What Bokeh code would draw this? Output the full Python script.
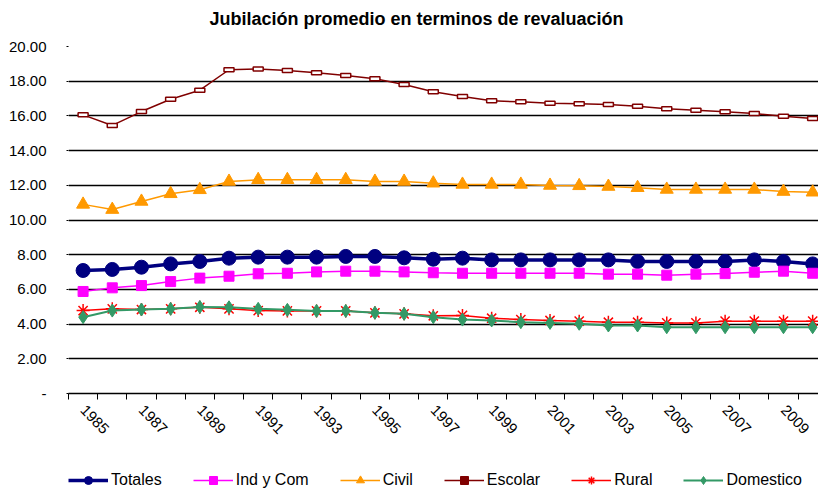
import math
from bokeh.plotting import figure
from bokeh.layouts import column
from bokeh.models import FixedTicker, Legend, LegendItem, Range1d, PrintfTickFormatter, Label
from bokeh.embed import file_html
from bokeh.resources import INLINE

years = list(range(1985, 2011))
label_years = list(range(1985, 2010, 2))
y_ticks = list(range(0, 21, 2))

totales = [7.09, 7.15, 7.28, 7.47, 7.61, 7.80, 7.86, 7.86, 7.86, 7.90, 7.90, 7.82, 7.74,
           7.80, 7.70, 7.70, 7.70, 7.70, 7.70, 7.61, 7.61, 7.61, 7.61, 7.70, 7.61, 7.47]
ind_com = [5.88, 6.09, 6.22, 6.45, 6.65, 6.76, 6.90, 6.93, 7.01, 7.05, 7.05, 7.01, 6.96,
           6.93, 6.93, 6.93, 6.93, 6.93, 6.88, 6.88, 6.82, 6.88, 6.91, 6.99, 7.05, 6.93]
civil = [10.90, 10.60, 11.07, 11.51, 11.74, 12.22, 12.32, 12.32, 12.32, 12.32, 12.22, 12.22, 12.12,
         12.05, 12.05, 12.05, 11.99, 11.97, 11.93, 11.86, 11.76, 11.76, 11.76, 11.76, 11.64, 11.60]
escolar = [16.06, 15.45, 16.25, 16.96, 17.48, 18.66, 18.71, 18.62, 18.48, 18.33, 18.14, 17.81, 17.39,
           17.12, 16.87, 16.81, 16.73, 16.70, 16.66, 16.56, 16.41, 16.33, 16.24, 16.14, 15.98, 15.85]
rural = [4.78, 4.88, 4.84, 4.88, 4.97, 4.88, 4.78, 4.76, 4.76, 4.76, 4.65, 4.59, 4.48,
         4.50, 4.34, 4.26, 4.21, 4.17, 4.11, 4.11, 4.07, 4.07, 4.17, 4.17, 4.17, 4.17]
domestico = [4.40, 4.78, 4.84, 4.88, 4.99, 4.97, 4.88, 4.82, 4.76, 4.76, 4.65, 4.59, 4.40,
             4.26, 4.21, 4.11, 4.07, 4.02, 3.92, 3.92, 3.82, 3.82, 3.82, 3.82, 3.82, 3.82]

series_names = ["Totales", "Ind y Com", "Civil", "Escolar", "Rural", "Domestico"]
series_colors = ["#000080", "#FF00FF", "#FF9900", "#800000", "#FF0000", "#339966"]
title_text = "Jubilación promedio en terminos de revaluación"

FONT = "Liberation Sans"

# title strip
tt = figure(width=818, height=30, output_backend="svg", toolbar_location=None,
            x_range=Range1d(0, 750), y_range=Range1d(0, 30), x_axis_type=None, y_axis_type=None,
            min_border=0, min_border_left=0, min_border_right=0, min_border_top=0, min_border_bottom=0)
tt.outline_line_color = None
tt.grid.visible = False
tt.add_layout(Label(x=348, y=12, text=title_text, text_align="center", text_baseline="middle",
                    text_font=FONT, text_font_size="18px", text_font_style="bold", text_color="black"))

p = figure(width=818, height=435, output_backend="svg", toolbar_location=None,
           x_range=Range1d(1984.5, 2010.2), y_range=Range1d(0, 20),
           min_border_left=68, min_border_right=0, min_border_top=16, min_border_bottom=72)
p.outline_line_color = None

# y axis
p.yaxis.ticker = FixedTicker(ticks=y_ticks)
p.yaxis.formatter = PrintfTickFormatter(format="%.2f")
p.yaxis.major_label_overrides = {0: "-"}
p.yaxis.axis_line_color = None
p.yaxis.major_tick_line_color = "black"
p.yaxis.major_tick_out = 2
p.yaxis.major_tick_in = 0
p.yaxis.minor_tick_line_color = None
p.yaxis.major_label_standoff = 20
p.yaxis.major_label_text_font = FONT
p.yaxis.major_label_text_font_size = "15px"
p.yaxis.major_label_text_color = "black"
p.ygrid.ticker = FixedTicker(ticks=y_ticks)
p.ygrid.grid_line_color = "black"
p.ygrid.grid_line_width = 1.5
p.xgrid.visible = False

# x axis
p.xaxis.ticker = FixedTicker(ticks=label_years, minor_ticks=[y - 0.5 for y in years] + [years[-1] + 0.5])
p.xaxis.formatter = PrintfTickFormatter(format="%d")
p.xaxis.axis_line_color = "black"
p.xaxis.axis_line_width = 1.5
p.xaxis.major_tick_line_color = None
p.xaxis.minor_tick_line_color = "black"
p.xaxis.minor_tick_out = 6
p.xaxis.minor_tick_in = 0
p.xaxis.major_label_orientation = -0.8
p.xaxis.major_label_standoff = 8
p.xaxis.major_label_text_font = FONT
p.xaxis.major_label_text_font_size = "15px"
p.xaxis.major_label_text_color = "black"

p.line(years, totales, line_color=series_colors[0], line_width=3.5)
p.scatter(years, totales, marker="circle", size=14, fill_color=series_colors[0], line_color=series_colors[0])

p.line(years, ind_com, line_color=series_colors[1], line_width=1.5)
p.scatter(years, ind_com, marker="square", size=10, fill_color=series_colors[1], line_color=series_colors[1])

p.line(years, civil, line_color=series_colors[2], line_width=1.5)
p.scatter(years, civil, marker="triangle", size=13, fill_color=series_colors[2], line_color=series_colors[2])

p.line(years, escolar, line_color=series_colors[3], line_width=1.5)
p.rect(years, escolar, width=10, height=4, width_units="screen", height_units="screen",
       fill_color="white", line_color=series_colors[3], line_width=1.5)

p.line(years, rural, line_color=series_colors[4], line_width=1.5)
p.scatter(years, rural, marker="asterisk", size=13, line_color=series_colors[4], line_width=1.5)

p.line(years, domestico, line_color=series_colors[5], line_width=2)
p.scatter(years, domestico, marker="diamond", size=13, fill_color=series_colors[5], line_color=series_colors[5])

# legend strip
lg = figure(width=818, height=26, output_backend="svg", toolbar_location=None,
            x_range=Range1d(0, 1), y_range=Range1d(0, 1), x_axis_type=None, y_axis_type=None,
            min_border=0, min_border_left=0, min_border_right=0, min_border_top=0, min_border_bottom=0)
lg.outline_line_color = None
lg.grid.visible = False

nan = [float("nan")]
markers = ["circle", "square", "triangle", "square", "asterisk", "diamond"]
widths = [3.5, 1.5, 1.5, 1.5, 1.5, 2]
items = []
for name, col, mk, w in zip(series_names, series_colors, markers, widths):
    lr = lg.line(nan, nan, line_color=col, line_width=w)
    mr = lg.scatter(nan, nan, marker=mk, size=8, fill_color=col, line_color=col,
                    line_width=1.5 if mk == "asterisk" else 1)
    items.append(LegendItem(label=name, renderers=[lr, mr]))

legend = Legend(items=items, orientation="horizontal", location=(0, 1),
                label_text_font=FONT, label_text_font_size="16px", label_text_color="black",
                glyph_width=40, glyph_height=20, label_height=20, label_standoff=3, spacing=31,
                padding=0, margin=0, border_line_color=None, background_fill_alpha=0)
lg.add_layout(legend, "center")

open("out.html", "w").write(file_html(column(tt, p, lg, spacing=0), INLINE))
